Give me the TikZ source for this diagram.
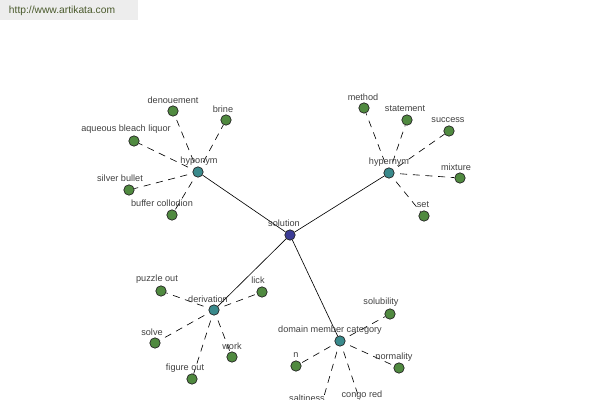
\documentclass[tikz,border=0pt]{standalone}
\usepackage{fontspec}
\setmainfont{Liberation Sans}
\usepackage{tikz}

\definecolor{leafgreen}{RGB}{80,138,64}
\definecolor{hubteal}{RGB}{58,138,140}
\definecolor{rootblue}{RGB}{60,60,150}
\definecolor{txtgray}{RGB}{64,64,64}
\definecolor{urlgreen}{RGB}{74,90,44}

\begin{document}
\begin{tikzpicture}[x=0.025cm,y=-0.025cm]
  \tikzstyle{v} = [circle, draw=black!85, line width=0.5pt, inner sep=0pt, minimum size=0.26cm, fill=leafgreen]
  \tikzstyle{hub} = [v, fill=hubteal]
  \tikzstyle{root} = [v, fill=rootblue]
  \tikzstyle{t} = [inner sep=0pt, text=txtgray, font=\fontsize{6.5}{7}\selectfont]
  \tikzstyle{e} = [line width=0.45pt]
  \tikzstyle{d} = [line width=0.45pt, dash pattern=on 5pt off 4pt, dash phase=5pt]

  \useasboundingbox (0,0) rectangle (600,400);
  \fill[black!7] (0,0) rectangle (138,20);
  \node[inner sep=0pt, text=urlgreen, font=\fontsize{7.3}{8}\selectfont](url) at (62,11){http://www.artikata.com};

  % centre and the four relations
  \node[root](sol) at (290,235){};
  \node[hub](hypo) at (198,172){};
  \node[hub](hyper) at (389,173){};
  \node[hub](deriv) at (214,310){};
  \node[hub](dom) at (340,341){};

  % hyponym
  \node[v](denou) at (173,111){};
  \node[v](brine) at (226,120){};
  \node[v](aqueous) at (134,141){};
  \node[v](silver) at (129,190){};
  \node[v](buffer) at (172,215){};

  % hypernym
  \node[v](method) at (364,108){};
  \node[v](statem) at (407,120){};
  \node[v](success) at (449,131){};
  \node[v](mixture) at (460,178){};
  \node[v](set) at (424,216){};

  % derivation
  \node[v](puzzle) at (161,291){};
  \node[v](lick) at (262,292){};
  \node[v](solve) at (155,343){};
  \node[v](work) at (232,357){};
  \node[v](figure) at (192,379){};

  % domain member category
  \node[v](solub) at (390,314){};
  \node[v](n) at (296,366){};
  \node[v](normal) at (399,368){};
  \node[v](salt) at (320,410){};
  \node[v](congo) at (362,407){};

  \draw[e](sol)--(hypo);
  \draw[e](sol)--(hyper);
  \draw[e](sol)--(deriv);
  \draw[e](sol)--(dom);

  \draw[d](hypo)--(denou);
  \draw[d](hypo)--(brine);
  \draw[d](hypo)--(aqueous);
  \draw[d](hypo)--(silver);
  \draw[d](hypo)--(buffer);

  \draw[d](hyper)--(method);
  \draw[d](hyper)--(statem);
  \draw[d](hyper)--(success);
  \draw[d](hyper)--(mixture);
  \draw[d](hyper)--(set);

  \draw[d](deriv)--(puzzle);
  \draw[d](deriv)--(lick);
  \draw[d](deriv)--(solve);
  \draw[d](deriv)--(work);
  \draw[d](deriv)--(figure);

  \draw[d](dom)--(solub);
  \draw[d](dom)--(n);
  \draw[d](dom)--(normal);
  \draw[d](dom)--(salt);
  \draw[d](dom)--(congo);

  % labels
  \node[t](tsol) at (284,223){solution};
  \node[t](thypo) at (199,161){hyponym};
  \node[t](thyper) at (389,162){hypernym};
  \node[t](tderiv) at (208,299){derivation};
  \node[t](tdom) at (330,330){domain member category};
  \node[t](tdenou) at (173,100){denouement};
  \node[t](tbrine) at (223,109){brine};
  \node[t](taqueous) at (126,129){aqueous bleach liquor};
  \node[t](tsilver) at (120,178){silver bullet};
  \node[t](tbuffer) at (162,203){buffer collodion};
  \node[t](tmethod) at (363,97){method};
  \node[t](tstatem) at (405,109){statement};
  \node[t](tsuccess) at (448,120){success};
  \node[t](tmixture) at (456,167){mixture};
  \node[t](tset) at (423,205){set};
  \node[t](tpuzzle) at (157,279){puzzle out};
  \node[t](tlick) at (258,280){lick};
  \node[t](tsolve) at (152,332){solve};
  \node[t](twork) at (232,346){work};
  \node[t](tfigure) at (185,368){figure out};
  \node[t](tsolub) at (381,302){solubility};
  \node[t](tn) at (296,355){n};
  \node[t](tnormal) at (394,357){normality};
  \node[t](tsalt) at (307,398){saltiness};
  \node[t](tcongo) at (362,395){congo red};
\end{tikzpicture}
\end{document}
